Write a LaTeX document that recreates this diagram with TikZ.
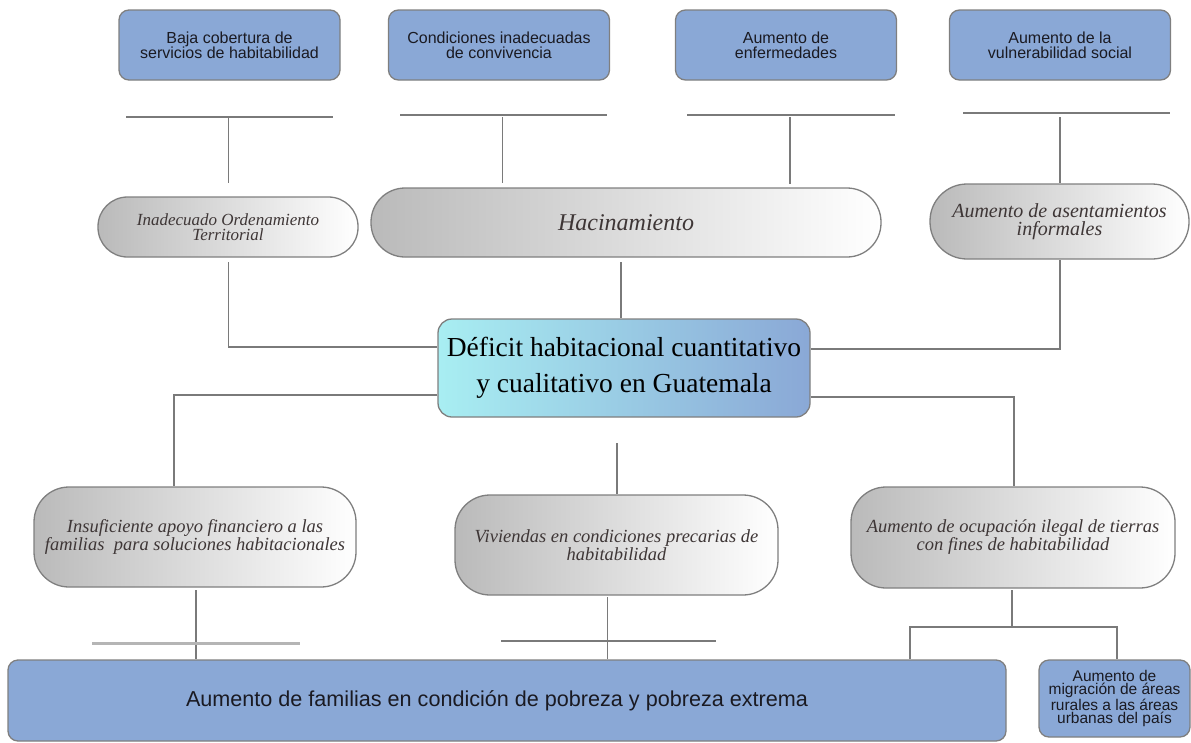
\documentclass[tikz,border=0pt]{standalone}
\usepackage{fontspec}
\setmainfont{Liberation Serif}
\newfontfamily\arialf{Liberation Sans}
\definecolor{boxblue}{HTML}{8AA8D6}
\definecolor{bordergray}{HTML}{7F7F7F}
\definecolor{linegray}{HTML}{7A7A7A}
\definecolor{lightline}{HTML}{B5B5B5}
\definecolor{ovaltext}{HTML}{3E3636}
\definecolor{cyanl}{HTML}{A8EEF2}
\definecolor{ovalleft}{HTML}{BABABA}
\definecolor{sanstext}{HTML}{1A1A22}
\begin{document}
\begin{tikzpicture}[x=1pt,y=-1pt,
  bluebox/.style={draw=bordergray, line width=1.3pt, fill=boxblue, rounded corners=10pt,
    inner sep=0pt, align=center, text=sanstext},
  topbox/.style={bluebox, minimum width=221pt, minimum height=70pt,
    font=\arialf\fontsize{16}{15}\selectfont},
  oval/.style={draw=bordergray, line width=1.3pt, left color=ovalleft, right color=white,
    inner sep=0pt, align=center, text=ovaltext},
  conn/.style={draw=linegray, line width=1.2pt},
]
\useasboundingbox (0,0) rectangle (1191,742);

% top boxes
\node[topbox] (b1) at (229.5,45) {Baja cobertura de\\servicios de habitabilidad};
\node[topbox] (b2) at (499,45) {Condiciones inadecuadas\\de convivencia};
\node[topbox] (b3) at (786,45) {Aumento de\\enfermedades};
\node[topbox] (b4) at (1060,45) {Aumento de la\\vulnerabilidad social};

% ovals
\node[oval, rounded corners=29.5pt, minimum width=260pt, minimum height=60pt,
  font=\fontsize{17}{15}\selectfont\itshape] (o1) at (228,227)
  {Inadecuado Ordenamiento\\Territorial};
\node[oval, rounded corners=34pt, minimum width=510pt, minimum height=69pt,
  font=\fontsize{24}{26}\selectfont\itshape] (o2) at (626,222.5) {Hacinamiento};
\node[oval, rounded corners=37pt, minimum width=259pt, minimum height=75pt,
  font=\fontsize{20}{18}\selectfont\itshape] (o4) at (1059.5,221.5)
  {Aumento de asentamientos\\informales};

% central box
\node[draw=bordergray, line width=1.3pt, left color=cyanl, right color=boxblue,
  rounded corners=14pt, inner sep=0pt, minimum width=372pt, minimum height=98pt,
  align=center, text=black, font=\fontsize{27.5}{36}\selectfont] (c) at (624,368)
  {Déficit habitacional cuantitativo\\y cualitativo en Guatemala};

% lower ovals
\node[oval, rounded corners=35pt, minimum width=322pt, minimum height=100pt,
  font=\fontsize{18.5}{16}\selectfont\itshape] (o5) at (195,537)
  {Insuficiente apoyo financiero a las\\familias\ \ para soluciones habitacionales};
\node[oval, rounded corners=35pt, minimum width=323pt, minimum height=100pt,
  font=\fontsize{18.5}{16}\selectfont\itshape] (o6) at (616.5,545)
  {Viviendas en condiciones precarias de\\habitabilidad};
\node[oval, rounded corners=35pt, minimum width=324pt, minimum height=101pt,
  font=\fontsize{18.5}{16}\selectfont\itshape] (o7) at (1013,537.5)
  {Aumento de ocupación ilegal de tierras\\con fines de habitabilidad};

% bottom boxes
\node[bluebox, minimum width=998pt, minimum height=81pt,
  font=\arialf\fontsize{21.6}{24}\selectfont] (p) at (507,700.5)
  {Aumento de familias en condición de pobreza y pobreza extrema\hspace*{20pt}};
\node[bluebox, minimum width=151pt, minimum height=77pt,
  font=\arialf\fontsize{15.5}{13.5}\selectfont] (m) at (1114.5,698.5)
  {Aumento de\\migración de áreas\\rurales a las áreas\\urbanas del país};

% top connectors (T shapes)
\coordinate (t1a) at (126,117); \coordinate (t1b) at (333,117);
\coordinate (t1c) at (228.5,117); \coordinate (t1d) at (228.5,183);
\coordinate (t2a) at (400,115); \coordinate (t2b) at (607,115);
\coordinate (t2c) at (502.5,117); \coordinate (t2d) at (502.5,183);
\coordinate (t3a) at (687,115); \coordinate (t3b) at (895,115);
\coordinate (t3c) at (790,117); \coordinate (t3d) at (790,184);
\coordinate (t4a) at (963,113); \coordinate (t4b) at (1170,113);
\coordinate (t4c) at (1060,117); \coordinate (t4d) at (1060,183);
\draw[conn] (t1a) -- (t1b); \draw[conn] (t1c) -- (t1d);
\draw[conn] (t2a) -- (t2b); \draw[conn] (t2c) -- (t2d);
\draw[conn] (t3a) -- (t3b); \draw[conn] (t3c) -- (t3d);
\draw[conn] (t4a) -- (t4b); \draw[conn] (t4c) -- (t4d);

% to/from central box
\coordinate (o1s) at (228.5,262);
\draw[conn] (o1s) |- ([yshift=21pt]c.west);
\coordinate (o2s) at (621,262);
\draw[conn] (o2s) -- (c.north -| o2s);
\coordinate (o4s) at (1060,260);
\draw[conn] (o4s) |- ([yshift=19pt]c.east);
\draw[conn] ([yshift=-27pt]c.west) -| (o5.north -| 174,0);
\draw[conn] ([yshift=-29pt]c.east) -| (o7.north -| 1014,0);
\coordinate (cs) at (617,443);
\draw[conn] (cs) -- (o6.north -| cs);

% lower connectors
\coordinate (o5s) at (196,590);
\draw[conn] (o5s) -- (p.north -| o5s);
\coordinate (h1a) at (92,643); \coordinate (h1b) at (300,643);
\draw[draw=lightline, line width=3pt] (h1a) -- (h1b);
\coordinate (o6s) at (607.6,597);
\draw[conn] (o6s) -- (p.north -| o6s);
\coordinate (h2a) at (501,641); \coordinate (h2b) at (715.5,641);
\draw[conn] (h2a) -- (h2b);
\coordinate (o7s) at (1012,590);
\coordinate (sp) at (1012,627);
\draw[conn] (o7s) -- (sp);
\draw[conn] (sp) -| (p.north -| 910,0);
\draw[conn] (sp) -| (m.north -| 1117,0);
\end{tikzpicture}
\end{document}
